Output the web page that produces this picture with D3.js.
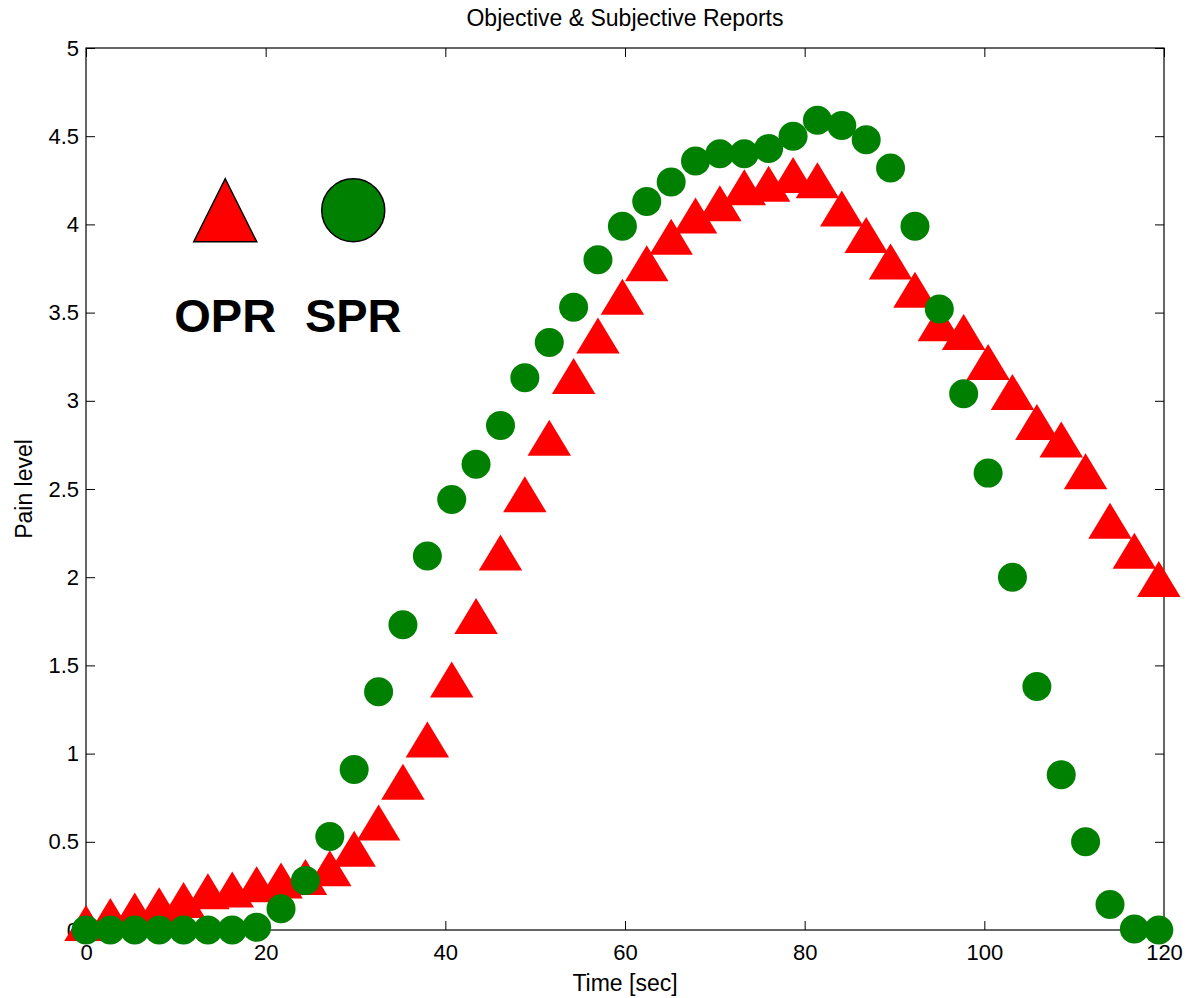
<!DOCTYPE html>
<html>
<head>
<meta charset="utf-8">
<script src="https://cdn.jsdelivr.net/npm/d3@7"></script>
<style>
  html, body { margin: 0; padding: 0; background: #fff; }
  svg { display: block; font-family: "Liberation Sans", Arial, sans-serif; }
  .axis text { font-size: 22px; fill: #000; }
  .axis line { stroke: #000; }
</style>
</head>
<body>
<svg id="chart" width="1186" height="998"></svg>
<script>
// sample times: 45 reports, about 2.71 sec apart
const times = [
  0, 2.71, 5.43, 8.14, 10.86, 13.57, 16.28, 19.0, 21.71, 24.43,
  27.14, 29.85, 32.57, 35.28, 38.0, 40.71, 43.42, 46.14, 48.85, 51.57,
  54.28, 56.99, 59.71, 62.42, 65.14, 67.85, 70.56, 73.28, 75.99, 78.71,
  81.42, 84.13, 86.85, 89.56, 92.28, 94.99, 97.7, 100.42, 103.13, 105.85,
  108.56, 111.27, 113.99, 116.7, 119.42
];

// objective pain report (triangles)
const opr = [
  0.04, 0.08, 0.11, 0.14, 0.17, 0.22, 0.23, 0.26, 0.28, 0.30,
  0.35, 0.46, 0.61, 0.84, 1.08, 1.42, 1.78, 2.14, 2.47, 2.79,
  3.14, 3.37, 3.59, 3.78, 3.93, 4.05, 4.12, 4.21, 4.23, 4.28,
  4.25, 4.09, 3.94, 3.79, 3.63, 3.44, 3.39, 3.22, 3.05, 2.88,
  2.78, 2.60, 2.32, 2.15, 1.99
];

// subjective pain report (circles)
const spr = [
  0, 0, 0, 0, 0, 0, 0, 0.015, 0.12, 0.28,
  0.53, 0.91, 1.35, 1.73, 2.12, 2.44, 2.64, 2.86, 3.13, 3.33,
  3.53, 3.80, 3.99, 4.13, 4.24, 4.36, 4.40, 4.40, 4.43, 4.50,
  4.59, 4.56, 4.48, 4.32, 3.99, 3.52, 3.04, 2.59, 2.00, 1.38,
  0.88, 0.50, 0.145, 0.006, 0
];

const xTicks = [0, 20, 40, 60, 80, 100, 120];
const yTicks = [0, 0.5, 1, 1.5, 2, 2.5, 3, 3.5, 4, 4.5, 5];

// in-plot legend, placed in data units
const legendNames = ["OPR", "SPR"];
const legendX = [15.5, 29.75];
const legendMarkY = 4.08;
const legendTextY = 3.39;

const svg = d3.select("#chart");
const margin = { left: 86, right: 1164, top: 48, bottom: 930 };

const x = d3.scaleLinear().domain([0, 120]).range([margin.left, margin.right]);
const y = d3.scaleLinear().domain([0, 5]).range([margin.bottom, margin.top]);

// frame
svg.append("rect")
  .attr("x", margin.left).attr("y", margin.top)
  .attr("width", margin.right - margin.left)
  .attr("height", margin.bottom - margin.top)
  .attr("fill", "none").attr("stroke", "#000").attr("stroke-width", 1.2);

const fmt = (d) => String(d);

svg.append("g").attr("class", "axis")
  .attr("transform", `translate(0,${margin.bottom})`)
  .call(d3.axisBottom(x).tickValues(xTicks).tickFormat(fmt).tickSizeInner(-9).tickSizeOuter(0).tickPadding(14))
  .call((g) => g.select(".domain").remove());

svg.append("g").attr("class", "axis")
  .attr("transform", `translate(0,${margin.top})`)
  .call(d3.axisTop(x).tickValues(xTicks).tickFormat("").tickSizeInner(-9).tickSizeOuter(0))
  .call((g) => g.select(".domain").remove());

svg.append("g").attr("class", "axis")
  .attr("transform", `translate(${margin.left},0)`)
  .call(d3.axisLeft(y).tickValues(yTicks).tickFormat(fmt).tickSizeInner(-9).tickSizeOuter(0).tickPadding(7))
  .call((g) => g.select(".domain").remove());

svg.append("g").attr("class", "axis")
  .attr("transform", `translate(${margin.right},0)`)
  .call(d3.axisRight(y).tickValues(yTicks).tickFormat("").tickSizeInner(-9).tickSizeOuter(0))
  .call((g) => g.select(".domain").remove());

// titles
svg.append("text")
  .attr("x", (margin.left + margin.right) / 2).attr("y", 26)
  .attr("text-anchor", "middle").attr("font-size", 23)
  .text("Objective & Subjective Reports");

svg.append("text")
  .attr("x", (margin.left + margin.right) / 2).attr("y", 991)
  .attr("text-anchor", "middle").attr("font-size", 23)
  .text("Time [sec]");

svg.append("text")
  .attr("transform", `translate(32,${(margin.top + margin.bottom) / 2}) rotate(-90)`)
  .attr("text-anchor", "middle").attr("font-size", 23)
  .text("Pain level");

// triangle centred on its bounding box
const triangle = (w, h) => `M0,${-h / 2}L${w / 2},${h / 2}L${-w / 2},${h / 2}Z`;

const points = times.map((t, i) => ({ t, opr: opr[i], spr: spr[i] }));

svg.append("g").selectAll("path")
  .data(points)
  .join("path")
  .attr("d", triangle(43.5, 36))
  .attr("transform", (d) => `translate(${x(d.t)},${y(d.opr)})`)
  .attr("fill", "#ff0000");

svg.append("g").selectAll("circle")
  .data(points)
  .join("circle")
  .attr("cx", (d) => x(d.t))
  .attr("cy", (d) => y(d.spr))
  .attr("r", 14.5)
  .attr("fill", "#008000");

// legend marks
svg.append("path")
  .attr("d", triangle(63, 63))
  .attr("transform", `translate(${x(legendX[0])},${y(legendMarkY)})`)
  .attr("fill", "#ff0000").attr("stroke", "#000").attr("stroke-width", 1.5);

svg.append("circle")
  .attr("cx", x(legendX[1])).attr("cy", y(legendMarkY)).attr("r", 31.5)
  .attr("fill", "#008000").attr("stroke", "#000").attr("stroke-width", 1.5);

svg.append("g").selectAll("text")
  .data(legendNames)
  .join("text")
  .attr("x", (d, i) => x(legendX[i]))
  .attr("y", y(legendTextY))
  .attr("text-anchor", "middle")
  .attr("font-size", 47).attr("font-weight", "bold")
  .text((d) => d);
</script>
</body>
</html>
